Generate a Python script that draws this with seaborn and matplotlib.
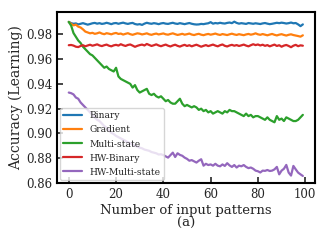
import numpy as np
import pandas as pd
import matplotlib
matplotlib.use("Agg")
import matplotlib.pyplot as plt
import seaborn as sns

patterns = list(range(100))

binary = [0.9900, 0.9890, 0.9885, 0.9888, 0.9880, 0.9885, 0.9890, 0.9884, 0.9878, 0.9883,
          0.9889, 0.9892, 0.9886, 0.9890, 0.9884, 0.9887, 0.9893, 0.9888, 0.9882, 0.9889,
          0.9891, 0.9885, 0.9890, 0.9894, 0.9888, 0.9884, 0.9889, 0.9892, 0.9883, 0.9879,
          0.9882, 0.9876, 0.9886, 0.9893, 0.9888, 0.9885, 0.9890, 0.9887, 0.9882, 0.9888,
          0.9891, 0.9886, 0.9884, 0.9889, 0.9893, 0.9887, 0.9884, 0.9890, 0.9886, 0.9882,
          0.9887, 0.9891, 0.9885, 0.9881, 0.9879, 0.9880, 0.9884, 0.9882, 0.9886, 0.9889,
          0.9898, 0.9886, 0.9891, 0.9888, 0.9893, 0.9889, 0.9887, 0.9892, 0.9895, 0.9890,
          0.9902, 0.9892, 0.9886, 0.9890, 0.9887, 0.9884, 0.9891, 0.9888, 0.9885, 0.9889,
          0.9886, 0.9883, 0.9888, 0.9891, 0.9886, 0.9882, 0.9885, 0.9889, 0.9893, 0.9890,
          0.9894, 0.9891, 0.9887, 0.9890, 0.9895, 0.9889, 0.9891, 0.9880, 0.9866, 0.9880]

gradient = [0.9900, 0.9885, 0.9872, 0.9878, 0.9862, 0.9855, 0.9840, 0.9822, 0.9815, 0.9808,
            0.9812, 0.9804, 0.9808, 0.9815, 0.9806, 0.9801, 0.9809, 0.9805, 0.9800, 0.9807,
            0.9811, 0.9803, 0.9806, 0.9798, 0.9804, 0.9809, 0.9801, 0.9796, 0.9802, 0.9808,
            0.9805, 0.9799, 0.9803, 0.9808, 0.9800, 0.9796, 0.9802, 0.9806, 0.9799, 0.9803,
            0.9807, 0.9800, 0.9797, 0.9803, 0.9808, 0.9801, 0.9795, 0.9799, 0.9804, 0.9797,
            0.9801, 0.9806, 0.9798, 0.9794, 0.9800, 0.9804, 0.9797, 0.9793, 0.9799, 0.9803,
            0.9797, 0.9801, 0.9806, 0.9799, 0.9795, 0.9802, 0.9798, 0.9794, 0.9800, 0.9805,
            0.9799, 0.9795, 0.9801, 0.9797, 0.9793, 0.9799, 0.9803, 0.9797, 0.9801, 0.9808,
            0.9800, 0.9796, 0.9802, 0.9797, 0.9792, 0.9798, 0.9803, 0.9796, 0.9791, 0.9797,
            0.9801, 0.9795, 0.9790, 0.9796, 0.9800, 0.9794, 0.9790, 0.9786, 0.9781, 0.9792]

multi_state = [0.990, 0.987, 0.981, 0.978, 0.975, 0.973, 0.970, 0.968, 0.966, 0.964,
               0.963, 0.961, 0.959, 0.957, 0.955, 0.953, 0.954, 0.952, 0.951, 0.950,
               0.953, 0.946, 0.944, 0.943, 0.942, 0.941, 0.940, 0.937, 0.939, 0.935,
               0.933, 0.934, 0.935, 0.936, 0.932, 0.931, 0.932, 0.930, 0.929, 0.930,
               0.928, 0.926, 0.927, 0.925, 0.924, 0.924, 0.926, 0.928, 0.924, 0.922,
               0.923, 0.922, 0.921, 0.922, 0.921, 0.919, 0.920, 0.918, 0.919, 0.917,
               0.918, 0.916, 0.917, 0.918, 0.917, 0.916, 0.918, 0.917, 0.919, 0.918,
               0.918, 0.917, 0.916, 0.915, 0.914, 0.916, 0.914, 0.915, 0.913, 0.914,
               0.914, 0.913, 0.912, 0.911, 0.913, 0.911, 0.910, 0.909, 0.914, 0.911,
               0.912, 0.910, 0.913, 0.912, 0.911, 0.910, 0.910, 0.911, 0.913, 0.915]

hw_binary = [0.9712, 0.9714, 0.9709, 0.9700, 0.9697, 0.9706, 0.9712, 0.9703, 0.9710, 0.9716,
             0.9708, 0.9713, 0.9719, 0.9710, 0.9705, 0.9712, 0.9717, 0.9708, 0.9703, 0.9711,
             0.9715, 0.9709, 0.9720, 0.9712, 0.9706, 0.9714, 0.9718, 0.9709, 0.9699, 0.9707,
             0.9713, 0.9717, 0.9710, 0.9722, 0.9714, 0.9706, 0.9712, 0.9719, 0.9710, 0.9704,
             0.9711, 0.9717, 0.9708, 0.9702, 0.9710, 0.9716, 0.9707, 0.9701, 0.9709, 0.9715,
             0.9706, 0.9712, 0.9703, 0.9710, 0.9716, 0.9708, 0.9700, 0.9707, 0.9713, 0.9705,
             0.9711, 0.9717, 0.9709, 0.9703, 0.9712, 0.9718, 0.9707, 0.9702, 0.9710, 0.9715,
             0.9708, 0.9713, 0.9706, 0.9711, 0.9717, 0.9709, 0.9703, 0.9712, 0.9720, 0.9713,
             0.9718, 0.9710, 0.9716, 0.9707, 0.9713, 0.9703, 0.9710, 0.9717, 0.9706, 0.9712,
             0.9700, 0.9709, 0.9714, 0.9706, 0.9696, 0.9708, 0.9715, 0.9704, 0.9711, 0.9708]

hw_multi_state = [0.9330, 0.9325, 0.9315, 0.9290, 0.9280, 0.9250, 0.9230, 0.9210, 0.9190, 0.9170,
                  0.9150, 0.9130, 0.9110, 0.9100, 0.9080, 0.9060, 0.9045, 0.9025, 0.9005, 0.8995,
                  0.8980, 0.8970, 0.8960, 0.8950, 0.8940, 0.8930, 0.8920, 0.8910, 0.8900, 0.8895,
                  0.8885, 0.8880, 0.8870, 0.8865, 0.8860, 0.8850, 0.8845, 0.8840, 0.8830, 0.8832,
                  0.8825, 0.8815, 0.8805, 0.8825, 0.8845, 0.8810, 0.8840, 0.8827, 0.8820, 0.8805,
                  0.8795, 0.8780, 0.8785, 0.8775, 0.8765, 0.8780, 0.8792, 0.8740, 0.8755, 0.8745,
                  0.8750, 0.8740, 0.8755, 0.8740, 0.8735, 0.8750, 0.8738, 0.8760, 0.8742, 0.8730,
                  0.8745, 0.8725, 0.8740, 0.8735, 0.8745, 0.8730, 0.8720, 0.8725, 0.8715, 0.8700,
                  0.8695, 0.8685, 0.8700, 0.8698, 0.8705, 0.8697, 0.8700, 0.8710, 0.8730, 0.8670,
                  0.8700, 0.8715, 0.8746, 0.8684, 0.8660, 0.8738, 0.8710, 0.8684, 0.8670, 0.8657]

labels = ["Binary", "Gradient", "Multi-state", "HW-Binary", "HW-Multi-state"]
series = [binary, gradient, multi_state, hw_binary, hw_multi_state]

df = pd.concat([pd.DataFrame({"patterns": patterns, "acc": s, "method": lab})
                for lab, s in zip(labels, series)])

sns.set_style("ticks")
plt.rcParams['font.family'] = ['DejaVu Serif']

fig = plt.figure(figsize=(3.28, 2.45), dpi=100)
ax = fig.add_axes([0.174, 0.253, 0.785, 0.698])
sns.lineplot(data=df, x="patterns", y="acc", hue="method", hue_order=labels,
             palette="tab10", linewidth=1.6, ax=ax)

ax.set_ylim(0.86, 0.998)
ax.set_xlim(-4.95, 103.95)
ax.set_xticks([0, 20, 40, 60, 80, 100])
ax.set_yticks([0.86, 0.88, 0.90, 0.92, 0.94, 0.96, 0.98])
ax.set_yticklabels(["0.86", "0.88", "0.90", "0.92", "0.94", "0.96", "0.98"])
ax.tick_params(direction="in", length=4, width=1.2, labelsize=8.5)
for sp in ax.spines.values():
    sp.set_linewidth(1.5)
    sp.set_color("black")

ax.set_xlabel("Number of input patterns\n(a)", fontsize=9.5, labelpad=2, linespacing=1.05)
ax.set_ylabel("Accuracy (Learning)", fontsize=10, labelpad=2)

h, l = ax.get_legend_handles_labels()
ax.legend(h, l, loc="lower left", fontsize=6.6, frameon=True, borderaxespad=0.3,
          handlelength=2.0, labelspacing=0.55)

fig.savefig("out.png", dpi=100)
